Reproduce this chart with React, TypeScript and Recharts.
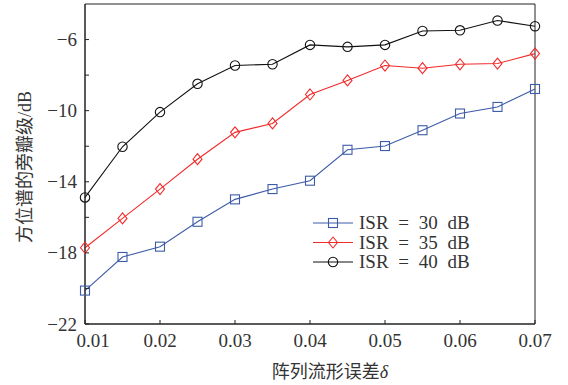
import { LineChart, Line, XAxis, YAxis, Legend, ReferenceArea } from "recharts";

const deltas = [0.01, 0.015, 0.02, 0.025, 0.03, 0.035, 0.04, 0.045, 0.05, 0.055, 0.06, 0.065, 0.07];
const isr30 = [-20.12, -18.23, -17.65, -16.25, -14.99, -14.41, -13.94, -12.2, -11.99, -11.1, -10.16, -9.79, -8.78];
const isr35 = [-17.71, -16.06, -14.41, -12.73, -11.22, -10.72, -9.09, -8.3, -7.46, -7.61, -7.39, -7.35, -6.79];
const isr40 = [-14.88, -12.03, -10.08, -8.49, -7.46, -7.39, -6.3, -6.41, -6.3, -5.52, -5.48, -4.93, -5.25];

const xTicks = [0.01, 0.02, 0.03, 0.04, 0.05, 0.06, 0.07];
const yTicks = [-22, -20, -18, -16, -14, -12, -10, -8, -6];
const seriesNames = ["ISR = 30 dB", "ISR = 35 dB", "ISR = 40 dB"];

const BLUE = "#3d5ba8";
const RED = "#f22a2a";
const BLACK = "#111";
const AXIS = "#222";
const TEXT = "#333";
const SERIF = '"Liberation Serif", "DejaVu Serif", serif';
const CJK = '"Liberation Serif", "Noto Sans CJK SC", serif';

const data = deltas.map((d, i) => ({ d, a: isr30[i], b: isr35[i], c: isr40[i] }));

const fmtNeg = (v: number) => (v < 0 ? "\u2212" + Math.abs(v) : String(v));

function YTick({ x, y, payload }: any) {
  const v = payload.value;
  const labeled = (v + 22) % 4 === 0;
  return (
    <g>
      <line x1={x} x2={x + 4} y1={y} y2={y} stroke={AXIS} />
      {labeled && (
        <text x={x - 8} y={y + 6.5} textAnchor="end" fill={TEXT} fontFamily={SERIF} fontSize={19}>
          {fmtNeg(v)}
        </text>
      )}
    </g>
  );
}

function XTick({ x, y, payload }: any) {
  const v = payload.value;
  const shift = v < 0.015 ? 8 : 0;
  return (
    <g>
      <line x1={x} x2={x} y1={y} y2={y - 4} stroke={AXIS} />
      <text x={x + shift} y={y + 23} textAnchor="middle" fill={TEXT} fontFamily={SERIF} fontSize={19}>
        {v.toFixed(2)}
      </text>
    </g>
  );
}

function Square({ cx, cy, color }: any) {
  return <rect x={cx - 4.5} y={cy - 4.5} width={9} height={9} fill="none" stroke={color} strokeWidth={1.1} />;
}
function Diamond({ cx, cy, color }: any) {
  return (
    <polygon
      points={`${cx},${cy - 5.5} ${cx + 4.5},${cy} ${cx},${cy + 5.5} ${cx - 4.5},${cy}`}
      fill="none"
      stroke={color}
      strokeWidth={1.1}
    />
  );
}
function Circle({ cx, cy, color }: any) {
  return <circle cx={cx} cy={cy} r={4.7} fill="none" stroke={color} strokeWidth={1.1} />;
}

const markers = [Square, Diamond, Circle];
const colors = [BLUE, RED, BLACK];

function LegendBox() {
  return (
    <svg width={180} height={62}>
      {seriesNames.map((name, i) => {
        const Marker = markers[i];
        const cy = 10 + i * 19.5;
        return (
          <g key={name}>
            <line x1={0} x2={40} y1={cy} y2={cy} stroke={colors[i]} strokeWidth={1.1} />
            <Marker cx={20} cy={cy} color={colors[i]} />
            <text x={46} y={cy + 6} fill={TEXT} fontFamily={SERIF} fontSize={19} wordSpacing={5}>
              {name}
            </text>
          </g>
        );
      })}
    </svg>
  );
}

function XLabel({ viewBox }: any) {
  const { x, y, width } = viewBox;
  return (
    <text x={x + width / 2 + 20} y={y + 54} textAnchor="middle" fill={TEXT} fontFamily={CJK} fontSize={18}>
      阵列流形误差<tspan fontStyle="italic">δ</tspan>
    </text>
  );
}

function YLabel({ viewBox }: any) {
  const { y, height } = viewBox;
  const cx = 25;
  const cy = y + height / 2 + 3;
  return (
    <text
      x={cx}
      y={cy}
      transform={`rotate(-90 ${cx} ${cy})`}
      textAnchor="middle"
      dominantBaseline="central"
      fill={TEXT}
      fontFamily={CJK}
      fontSize={18}
    >
      方位谱的旁瓣级/dB
    </text>
  );
}

export default function App() {
  return (
    <div style={{ position: "absolute", left: 0, top: 0, width: 568, height: 385, background: "#fff" }}>
      <LineChart width={568} height={385} data={data} margin={{ top: 4, right: 33, bottom: 0, left: 0 }}>
        <XAxis
          dataKey="d"
          type="number"
          domain={[0.01, 0.07]}
          ticks={xTicks}
          interval={0}
          height={61}
          tickSize={0}
          tickMargin={0}
          tickLine={false}
          tick={<XTick />}
          stroke={AXIS}
          label={<XLabel />}
        />
        <YAxis
          type="number"
          domain={[-22, -4]}
          ticks={yTicks}
          interval={0}
          width={85}
          tickSize={0}
          tickMargin={0}
          tickLine={false}
          tick={<YTick />}
          stroke={AXIS}
          label={<YLabel />}
        />
        <ReferenceArea x1={0.01} x2={0.07} y1={-22} y2={-4} fill="none" stroke={AXIS} strokeWidth={1} ifOverflow="visible" />
        {(["a", "b", "c"] as const).map((key, i) => {
          const Marker = markers[i];
          return (
            <Line
              key={key}
              dataKey={key}
              name={seriesNames[i]}
              stroke={colors[i]}
              strokeWidth={1.1}
              isAnimationActive={false}
              dot={(p: any) => <Marker key={`${key}-${p.index}`} cx={p.cx} cy={p.cy} color={colors[i]} />}
              activeDot={false}
            />
          );
        })}
        <Legend
          layout="horizontal"
          verticalAlign="middle"
          align="center"
          content={() => <LegendBox />}
          wrapperStyle={{ position: "absolute", left: 313, top: 213, width: 180, height: 62 }}
        />
      </LineChart>
    </div>
  );
}
